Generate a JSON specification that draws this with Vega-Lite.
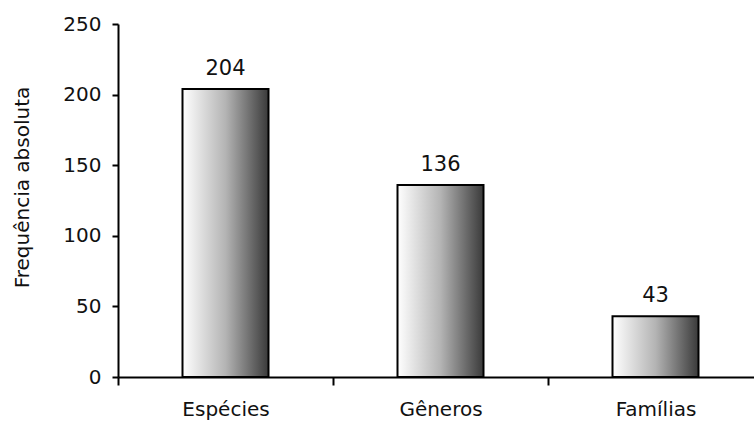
{
  "$schema": "https://vega.github.io/schema/vega-lite/v6.json",
  "autosize": {"type": "none"},
  "padding": {"left": 118, "top": 24, "right": 0, "bottom": 47},
  "width": 645,
  "height": 353,
  "background": "white",
  "data": {
    "values": [
      {"nivel": "Espécies", "frequencia": 204},
      {"nivel": "Gêneros", "frequencia": 136},
      {"nivel": "Famílias", "frequencia": 43}
    ]
  },
  "config": {
    "view": {"stroke": null},
    "font": "DejaVu Sans",
    "axis": {
      "domainColor": "#000",
      "domainWidth": 2,
      "tickColor": "#000",
      "tickWidth": 2,
      "labelColor": "#111",
      "labelFont": "DejaVu Sans",
      "labelFontSize": 20,
      "labelFontWeight": "normal",
      "titleColor": "#111",
      "titleFont": "DejaVu Sans",
      "titleFontSize": 20,
      "titleFontWeight": "normal",
      "grid": false
    }
  },
  "encoding": {
    "x": {
      "field": "nivel",
      "type": "nominal",
      "sort": null,
      "scale": {"paddingInner": 0, "paddingOuter": 0},
      "axis": {
        "title": null,
        "labelAngle": 0,
        "tickBand": "extent",
        "tickSize": 8,
        "labelPadding": 14
      }
    },
    "y": {
      "field": "frequencia",
      "type": "quantitative",
      "scale": {"domain": [0, 250], "nice": false},
      "axis": {
        "title": "Frequência absoluta",
        "values": [0, 50, 100, 150, 200, 250],
        "tickSize": 6,
        "labelPadding": 11,
        "titleAngle": -90,
        "titleX": -96,
        "titleY": 163,
        "titleAlign": "center",
        "titleBaseline": "middle"
      }
    }
  },
  "layer": [
    {
      "mark": {
        "type": "bar",
        "width": {"band": 0.4},
        "stroke": "#000",
        "strokeWidth": 2,
        "color": {
          "gradient": "linear",
          "x1": 0, "y1": 0, "x2": 1, "y2": 0,
          "stops": [
            {"offset": 0, "color": "#ffffff"},
            {"offset": 0.5, "color": "#b4b4b4"},
            {"offset": 1, "color": "#3a3a3a"}
          ]
        }
      }
    },
    {
      "mark": {
        "type": "text",
        "dy": -14,
        "baseline": "alphabetic",
        "fontSize": 21,
        "color": "#111",
        "font": "DejaVu Sans"
      },
      "encoding": {"text": {"field": "frequencia", "type": "quantitative"}}
    }
  ]
}
